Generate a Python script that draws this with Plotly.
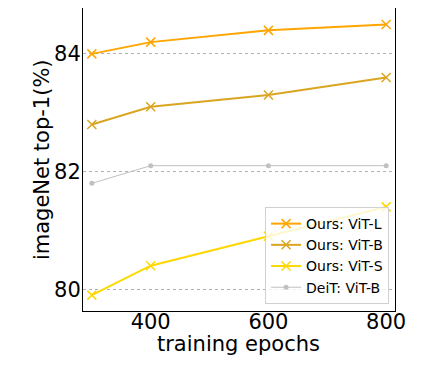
import plotly.graph_objects as go

epochs = [300, 400, 600, 800]
vit_l = [84.0, 84.2, 84.4, 84.5]
vit_b = [82.8, 83.1, 83.3, 83.6]
vit_s = [79.9, 80.4, 80.9, 81.4]
deit_b = [81.8, 82.1, 82.1, 82.1]
names = ["Ours: ViT-L", "Ours: ViT-B", "Ours: ViT-S", "DeiT: ViT-B"]
colors = ["#FFA500", "#DAA520", "#FFD700", "#C0C0C0"]
x_title = "training epochs"
y_title = "imageNet top-1(%)"

fig = go.Figure()
for ys, nm, c in zip([vit_l, vit_b, vit_s], names[:3], colors[:3]):
    fig.add_trace(go.Scatter(x=epochs, y=ys, name=nm, mode="lines+markers",
                             line=dict(color=c, width=2),
                             marker=dict(symbol="x-thin", size=9, line=dict(color=c, width=1.5), color=c)))
fig.add_trace(go.Scatter(x=epochs, y=deit_b, name=names[3], mode="lines+markers",
                         line=dict(color=colors[3], width=1),
                         marker=dict(symbol="circle", size=5, color=colors[3])))

# page body has an 8px margin, so the figure is offset by (8, 8)
fig.update_layout(
    width=414, height=349,
    margin=dict(l=75, r=27, t=0, b=46),
    plot_bgcolor="white", paper_bgcolor="white",
    font=dict(family="DejaVu Sans", color="black"),
    showlegend=True,
    legend=dict(x=0.981, y=0.023, xanchor="right", yanchor="bottom",
                bgcolor="rgba(255,255,255,0.8)", bordercolor="#d0d0d0", borderwidth=1,
                font=dict(size=14, family="DejaVu Sans"), tracegroupgap=0, itemwidth=30),
    annotations=[
        dict(text=x_title, xref="paper", yref="paper", x=0.497, y=0, xanchor="center",
             yanchor="middle", yshift=-33, showarrow=False, font=dict(size=21)),
        dict(text=y_title, xref="paper", yref="paper", x=0, y=0.498, xanchor="center",
             yanchor="middle", xshift=-41, textangle=-90, showarrow=False, font=dict(size=21)),
    ],
)
fig.update_xaxes(range=[285, 815], tickvals=[400, 600, 800], ticks="", ticklabelstandoff=-8,
                 tickfont=dict(size=21), showgrid=False, zeroline=False, automargin=False,
                 showline=True, linecolor="black", linewidth=1, mirror=True)
fig.update_yaxes(range=[79.63, 84.78], tickvals=[80, 82, 84], ticks="", ticklabelstandoff=-3,
                 tickfont=dict(size=21), showgrid=True, gridcolor="#b0b0b0", griddash="dot", gridwidth=1,
                 zeroline=False, showline=True, linecolor="black", linewidth=1, mirror=True, automargin=False)
fig.write_html("out.html")
